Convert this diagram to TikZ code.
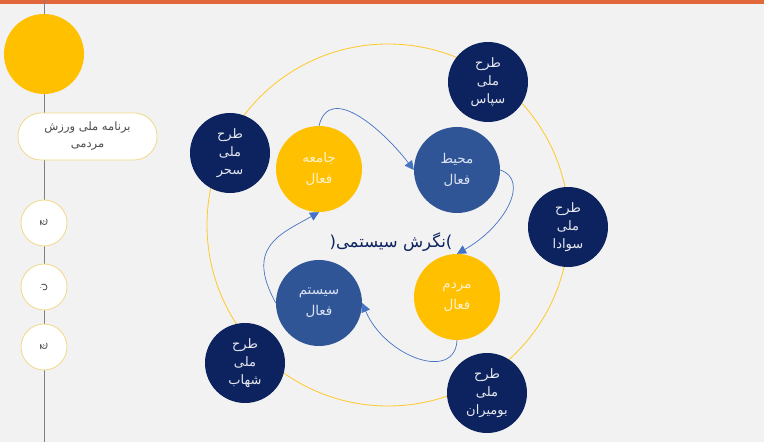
\documentclass[tikz,border=0pt]{standalone}
\usepackage{fontspec}
\usepackage{tikz}
\usetikzlibrary{arrows.meta}
\TeXXeTstate=1
\newfontfamily\farsi[Script=Arabic]{DejaVu Sans}
\newcommand{\fa}[1]{\beginR #1\endR}

\definecolor{bggray}{HTML}{F2F2F2}
\definecolor{topbar}{HTML}{E2673A}
\definecolor{goldy}{HTML}{FFC000}
\definecolor{navy}{HTML}{0C2360}
\definecolor{midblue}{HTML}{2F5597}
\definecolor{flowblue}{HTML}{4472C4}
\definecolor{paleline}{HTML}{F2D98A}
\definecolor{railgray}{HTML}{7F7F7F}
\definecolor{cream}{HTML}{FFF2CC}
\definecolor{iceblue}{HTML}{DAE3F3}

\tikzset{
    planball/.style={circle, fill=navy, minimum size=80pt, inner sep=0pt, align=center,
        text=white!90!navy, font=\farsi\fontsize{13}{18}\selectfont},
    yellowball/.style={circle, fill=goldy, minimum size=86pt, inner sep=0pt, align=center,
        text=cream, font=\farsi\fontsize{13.5}{21}\selectfont},
    blueball/.style={circle, fill=midblue, minimum size=86pt, inner sep=0pt, align=center,
        text=iceblue, font=\farsi\fontsize{13.5}{21}\selectfont},
    stageball/.style={circle, draw=paleline, line width=0.8pt, fill=white, minimum size=46pt,
        inner sep=0pt, text=railgray!60!black, font=\farsi\fontsize{11}{11}\selectfont},
    cycleflow/.style={draw=flowblue, line width=0.7pt, -{Triangle[length=9pt,width=9pt]}}
}

\begin{document}
\begin{tikzpicture}[x=1pt,y=1pt]
        \useasboundingbox (0,0) rectangle (764,442);
        \fill[bggray] (0,0) rectangle (764,442);
        \fill[topbar] (0,437.5) rectangle (764,442);

        \coordinate (railtop) at (44,442);
        \coordinate (railend) at (44,0);
        \draw[railgray, line width=1pt] (railtop) -- (railend);

        \node[circle, fill=goldy, minimum size=80pt, inner sep=0pt] (sun) at (44,388) {};
        \node[rectangle, rounded corners=23pt, draw=paleline, line width=0.8pt, fill=white,
            minimum width=139pt, minimum height=47pt, align=center, text=railgray!60!black,
            font=\farsi\fontsize{11.5}{17}\selectfont] (program) at (87.5,305.5)
            {\fa{برنامه ملی ورزش}\\\fa{مردمی}};
        \node[stageball] (stage1) at (44,219) {\rotatebox{90}{چ}};
        \node[stageball] (stage2) at (44,155) {\rotatebox{90}{ن}};
        \node[stageball] (stage3) at (44,95) {\rotatebox{90}{چ}};

        \draw[goldy!85!white, line width=0.8pt] (388,217) circle[radius=181pt];

        \node[planball] (sahar) at (230,289) {\fa{طرح}\\\fa{ملی}\\\fa{سحر}};
        \node[planball] (sepas) at (488,360) {\fa{طرح}\\\fa{ملی}\\\fa{سپاس}};
        \node[planball] (savada) at (568,215) {\fa{طرح}\\\fa{ملی}\\\fa{سوادا}};
        \node[planball] (boomiran) at (487,49) {\fa{طرح}\\\fa{ملی}\\\fa{بومیران}};
        \node[planball] (shahab) at (245,79) {\fa{طرح}\\\fa{ملی}\\\fa{شهاب}};

        \node[yellowball] (jameh) at (319,273) {\fa{جامعه}\\\fa{فعال}};
        \node[blueball] (mohit) at (457,272) {\fa{محیط}\\\fa{فعال}};
        \node[yellowball] (mardom) at (457,145) {\fa{مردم}\\\fa{فعال}};
        \node[blueball] (system) at (319,139) {\fa{سیستم}\\\fa{فعال}};

        \node[text=navy, font=\farsi\fontsize{16.5}{16.5}\selectfont] (idea) at (391,200)
            {(\fa{نگرش سیستمی})};

        \draw[cycleflow] (jameh.north) .. controls +(11,44) and +(-29,38) .. (mohit.west);
        \draw[cycleflow] (mohit.east) .. controls +(30,-10) and +(48,27) .. (mardom.north);
        \draw[cycleflow] (mardom.south) .. controls +(-2,-42) and +(23,-54) .. (system.east);
        \draw[cycleflow] (system.west) .. controls +(-31,56) and +(-39,-22) .. (jameh.south);
\end{tikzpicture}
\end{document}
